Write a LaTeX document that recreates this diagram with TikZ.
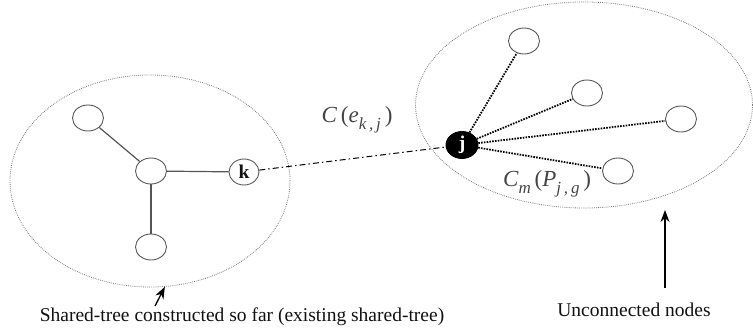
\documentclass[tikz,border=0pt]{standalone}
\usepackage{fontspec}
\setmainfont{Liberation Serif}
\usetikzlibrary{shapes.geometric,arrows.meta}
\definecolor{stEdge}{HTML}{555555}
\definecolor{stRing}{HTML}{7A7A7A}
\definecolor{stNode}{HTML}{5A5A5A}
\definecolor{stText}{HTML}{111111}
\newcommand{\lowidx}[1]{\raisebox{-0.65ex}{\fontsize{17}{17}\selectfont\itshape #1}}

\begin{document}
\begin{tikzpicture}[
    x=1pt, y=-1pt,
    every node/.style={font=\fontsize{19.5}{22}\selectfont, color=stText},
    vert/.style={ellipse, draw=stNode, line width=0.9pt, fill=white,
        minimum width=31pt, minimum height=26pt, inner sep=0pt},
    cluster/.style={ellipse, draw=stRing, line width=0.8pt,
        dash pattern=on 0.8pt off 1.1pt, inner sep=0pt},
    treeedge/.style={stEdge, line width=1.2pt},
    candedge/.style={black, line width=1.8pt, dash pattern=on 1.6pt off 1.2pt},
    linkedge/.style={black, line width=1pt, dash pattern=on 6pt off 3pt on 1.5pt off 3pt},
    ptr/.style={black, line width=1.3pt, -{Stealth[length=12pt, width=9pt]}},
    costlbl/.style={font=\fontsize{23}{26}\selectfont, text=stEdge!80!black},
]
\useasboundingbox (0,0) rectangle (753,336);

% ----------------------------------------------------------------------
% The two regions (dotted ellipses)
% ----------------------------------------------------------------------
\node[cluster, minimum width=280pt, minimum height=212pt] (tree) at (150,181) {};
\node[cluster, minimum width=337pt, minimum height=206pt] (rest) at (584,105) {};

% ----------------------------------------------------------------------
% Existing shared-tree
% ----------------------------------------------------------------------
\node[vert] (hub) at (151,171) {};
\node[vert] (tl)  at (88,118)  {};
\node[vert] (bot) at (151,247) {};
\node[vert, minimum width=30pt, font=\fontsize{19.5}{22}\selectfont\bfseries] (k) at (244,172) {k};

\draw[treeedge] (hub) -- (tl);
\draw[treeedge] (hub) -- (bot);
\draw[treeedge] (hub) -- (k);

% ----------------------------------------------------------------------
% Unconnected nodes, joined to j by candidate paths
% ----------------------------------------------------------------------
\node[vert, draw=black, fill=black, text=white, minimum width=32pt, minimum height=27pt,
      font=\fontsize{19.5}{22}\selectfont\bfseries] (j) at (462,145) {j};
\node[vert] (u1) at (524,41)  {};
\node[vert] (u2) at (587,93)  {};
\node[vert] (u3) at (681,119) {};
\node[vert] (u4) at (618,171) {};

\foreach \u in {u1,u2,u3,u4}
    \draw[candedge] (j) -- (\u);

% link between the tree and the new node
\draw[linkedge] (k) -- (j);

% ----------------------------------------------------------------------
% Cost labels
% ----------------------------------------------------------------------
\node[costlbl] (linkcost) at (357,120)
    {\textit{C}\,(\textit{e}\lowidx{k\,,\,j}\,)};
\node[costlbl] (pathcost) at (547,184)
    {\textit{C}\lowidx{m}\,(\textit{P}\lowidx{j\,,\,g}\,)};

% ----------------------------------------------------------------------
% Captions and pointers
% ----------------------------------------------------------------------
\node (treecap) at (242,317) {Shared-tree constructed so far (existing shared-tree)};
\node (restcap) at (634,310) {Unconnected nodes};

\coordinate (treetail) at (155,306);
\coordinate (resttail) at (665,288);
\coordinate (resthead) at (665,210);
\draw[ptr] (treetail) -- (tree.-82);
\draw[ptr] (resttail) -- (resthead);

\end{tikzpicture}
\end{document}
